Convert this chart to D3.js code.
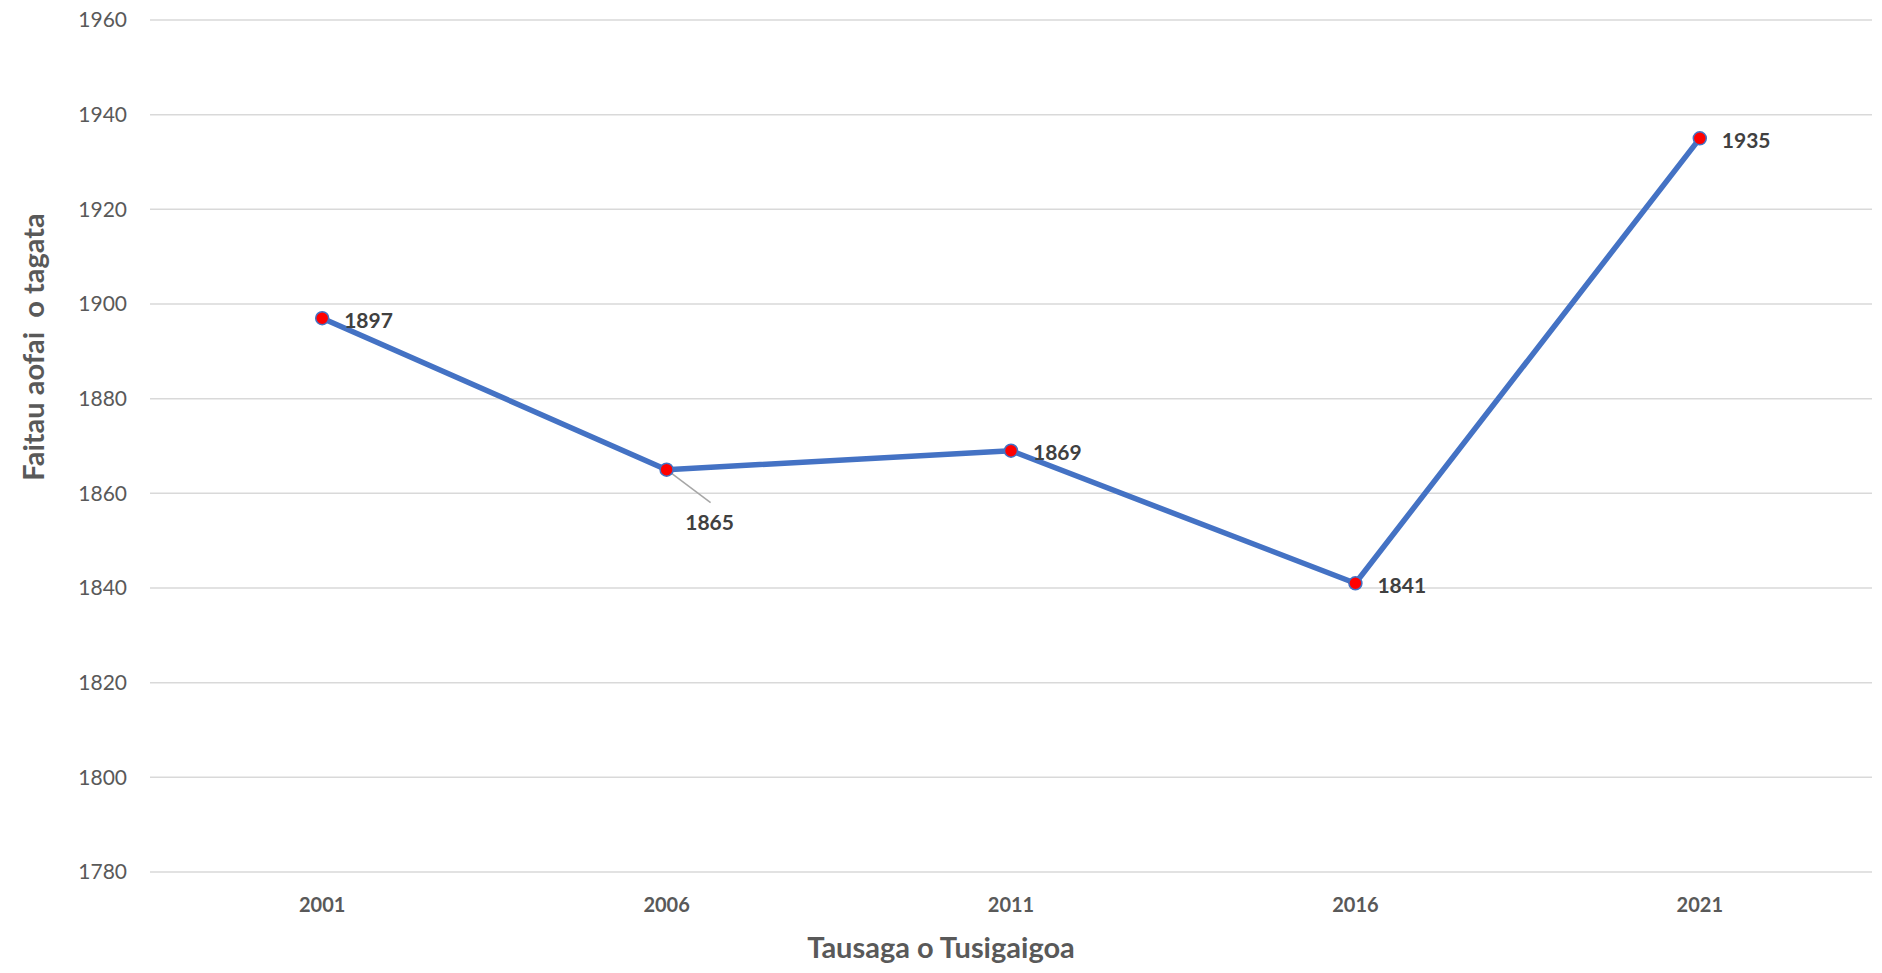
<!DOCTYPE html>
<html>
<head>
<meta charset="utf-8">
<script src="https://cdn.jsdelivr.net/npm/d3@7"></script>
<style>
  body { margin: 0; background: #fff; }
  svg { display: block; font-family: Lato, "Open Sans", sans-serif; }
  .grid line { stroke: #d9d9d9; stroke-width: 1.5; }
</style>
</head>
<body>
<svg id="chart"></svg>
<script>
// data
const years = ['2001', '2006', '2011', '2016', '2021'];
const population = [1897, 1865, 1869, 1841, 1935];
const yTicks = [1780, 1800, 1820, 1840, 1860, 1880, 1900, 1920, 1940, 1960];

const svg = d3.select('#chart')
  .attr('width', 1882)
  .attr('height', 973);

const margin = {top: 20, right: 10, bottom: 101, left: 150},
    width = 1882 - margin.left - margin.right,
    height = 973 - margin.top - margin.bottom;

const g = svg.append('g')
  .attr('transform', 'translate(' + margin.left + ',' + margin.top + ')');

const x = d3.scaleBand().domain(years).range([0, width]);
const y = d3.scaleLinear().domain([1780, 1960]).range([height, 0]);

// gridlines
g.append('g').attr('class', 'grid')
  .selectAll('line')
  .data(yTicks)
  .enter().append('line')
    .attr('x1', 0).attr('x2', width)
    .attr('y1', d => y(d)).attr('y2', d => y(d));

// y tick labels
g.append('g')
  .selectAll('text')
  .data(yTicks)
  .enter().append('text')
    .attr('x', -23)
    .attr('y', d => y(d))
    .attr('dy', '0.35em')
    .attr('text-anchor', 'end')
    .attr('fill', '#595959')
    .style('font-size', '21px')
    .text(d => d);

// x tick labels
g.append('g')
  .selectAll('text')
  .data(years)
  .enter().append('text')
    .attr('x', d => x(d) + x.bandwidth() / 2)
    .attr('y', height + 33)
    .attr('dy', '0.35em')
    .attr('text-anchor', 'middle')
    .attr('fill', '#595959')
    .style('font-size', '20px')
    .style('font-weight', 'bold')
    .text(d => d);

const pts = years.map((yr, i) => ({year: yr, value: population[i]}));
const cx = d => x(d.year) + x.bandwidth() / 2;

const line = d3.line().x(cx).y(d => y(d.value));

g.append('path')
  .datum(pts)
  .attr('fill', 'none')
  .attr('stroke', '#4472C4')
  .attr('stroke-width', 5.5)
  .attr('stroke-linejoin', 'round')
  .attr('d', line);

// leader line for 1865
const leader = pts[1];
g.append('line')
  .attr('x1', cx(leader)).attr('y1', y(leader.value))
  .attr('x2', cx(leader) + 44).attr('y2', y(leader.value) + 33)
  .attr('stroke', '#a6a6a6')
  .attr('stroke-width', 1.5);

g.selectAll('.dot')
  .data(pts)
  .enter().append('circle')
    .attr('class', 'dot')
    .attr('cx', cx)
    .attr('cy', d => y(d.value))
    .attr('r', 6.5)
    .attr('fill', '#ff0000')
    .attr('stroke', '#4472C4')
    .attr('stroke-width', 1.5);

// data labels
g.selectAll('.lbl')
  .data(pts)
  .enter().append('text')
    .attr('class', 'lbl')
    .attr('x', (d, i) => i === 1 ? cx(d) + 43 : cx(d) + 22)
    .attr('y', (d, i) => i === 1 ? y(d.value) + 53 : y(d.value) + 2)
    .attr('dy', '0.35em')
    .attr('text-anchor', (d, i) => i === 1 ? 'middle' : 'start')
    .attr('fill', '#404040')
    .style('font-size', '21px')
    .style('font-weight', 'bold')
    .text(d => d.value);

// axis titles
svg.append('text')
  .attr('x', margin.left + width / 2 - 70)
  .attr('y', 948)
  .attr('dy', '0.35em')
  .attr('text-anchor', 'middle')
  .attr('fill', '#595959')
  .style('font-size', '29px')
  .style('font-weight', 'bold')
  .text('Tausaga o Tusigaigoa');

svg.append('text')
  .attr('transform', 'translate(34,347) rotate(-90)')
  .attr('dy', '0.35em')
  .attr('text-anchor', 'middle')
  .attr('fill', '#595959')
  .style('font-size', '29px')
  .style('font-weight', 'bold')
  .style('white-space', 'pre')
  .text('Faitau aofai  o tagata');
</script>
</body>
</html>
